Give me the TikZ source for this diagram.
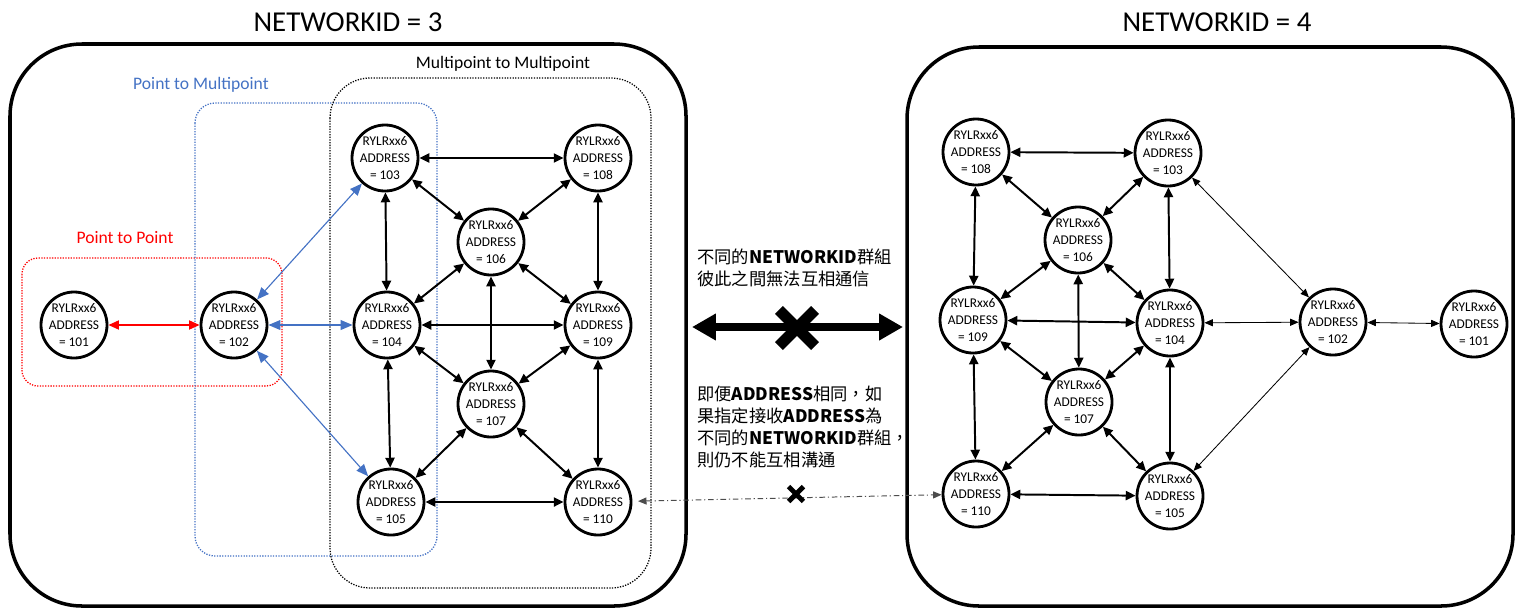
\documentclass[tikz,border=0pt]{standalone}
\usepackage{fontspec}
\setmainfont{Carlito}
\newfontfamily\cjk{Noto Sans CJK TC}
\usetikzlibrary{
  arrows.meta,
  shapes.misc
}
\definecolor{ptmp}{HTML}{4472C4}
\tikzset{
  radio/.style={circle, draw, fill=white, line width=2pt, minimum size=1.65cm,
    inner sep=-3pt, align=center, font=\fontsize{9.5}{12}\selectfont},
  group/.style={line width=2.5pt, rounded corners=1.8cm},
  zone/.style={line width=0.9pt, densely dotted},
  meshlink/.style={<->, >={Triangle[length=7pt,width=6.5pt]}, line width=1.4pt},
  bluelink/.style={<->, >={Triangle[length=8.5pt,width=7pt]}, line width=0.8pt, ptmp},
  redlink/.style={<->, >={Triangle[length=7.5pt,width=6.5pt]}, line width=1pt, red},
  thinlink/.style={<->, >={Triangle[length=6pt,width=5pt]}, line width=0.6pt},
  cutlink/.style={<->, >={Triangle[length=6pt,width=5pt]}, line width=0.7pt, black!70,
    dash pattern=on 4pt off 2pt on 0.8pt off 2pt},
  bigarrow/.style={<->, >={Triangle[length=17pt,width=18pt]}, line width=5.7pt},
  label/.style={font=\fontsize{12.5}{15}\selectfont},
  title/.style={font=\fontsize{20.5}{24}\selectfont},
  note/.style={font=\cjk\fontsize{12.3}{15.6}\selectfont, align=left, anchor=west, inner sep=0pt}
}
\begin{document}
\begin{tikzpicture}[x=0.025cm, y=-0.025cm]
  \useasboundingbox (0,0) rectangle (1516,607);

  % the two networks
  \draw[group] (10,44) rectangle (686,606);
  \draw[group] (907,47) rectangle (1513,606);
  \node[title] (id3) at (348,22) {NETWORKID = 3};
  \node[title] (id4) at (1217,22) {NETWORKID = 4};

  % modes in NETWORKID = 3
  \draw[zone, red, rounded corners=0.4cm] (22,258) rectangle (282,386);
  \draw[zone, ptmp, rounded corners=0.5cm] (195,103) rectangle (437,556);
  \draw[zone, rounded corners=1cm] (330,78) rectangle (651,588);
  \node[label, red] (p2p) at (125,238) {Point to Point};
  \node[label, ptmp] (p2mp) at (201,85) {Point to Multipoint};
  \node[label] (mp2mp) at (503,64) {Multipoint to Multipoint};

  % NETWORKID = 3
  \node[radio] (l101) at (74,325) {RYLRxx6\\ADDRESS\\= 101};
  \node[radio] (l102) at (234,325) {RYLRxx6\\ADDRESS\\= 102};
  \node[radio] (l103) at (385,158) {RYLRxx6\\ADDRESS\\= 103};
  \node[radio] (l104) at (387,325) {RYLRxx6\\ADDRESS\\= 104};
  \node[radio] (l105) at (391,502) {RYLRxx6\\ADDRESS\\= 105};
  \node[radio] (l106) at (491,242) {RYLRxx6\\ADDRESS\\= 106};
  \node[radio] (l107) at (491,404) {RYLRxx6\\ADDRESS\\= 107};
  \node[radio] (l108) at (598,158) {RYLRxx6\\ADDRESS\\= 108};
  \node[radio] (l109) at (598,325) {RYLRxx6\\ADDRESS\\= 109};
  \node[radio] (l110) at (598,502) {RYLRxx6\\ADDRESS\\= 110};

  \draw[redlink] (l101) -- (l102);
  \draw[bluelink] (l102) -- (l103);
  \draw[bluelink] (l102) -- (l104);
  \draw[bluelink] (l102) -- (l105);

  \draw[meshlink] (l103) -- (l108);
  \draw[meshlink] (l103) -- (l104);
  \draw[meshlink] (l103) -- (l106);
  \draw[meshlink] (l108) -- (l106);
  \draw[meshlink] (l108) -- (l109);
  \draw[meshlink] (l106) -- (l104);
  \draw[meshlink] (l106) -- (l109);
  \draw[meshlink] (l106) -- (l107);
  \draw[meshlink] (l104) -- (l109);
  \draw[meshlink] (l104) -- (l105);
  \draw[meshlink] (l104) -- (l107);
  \draw[meshlink] (l109) -- (l107);
  \draw[meshlink] (l109) -- (l110);
  \draw[meshlink] (l107) -- (l105);
  \draw[meshlink] (l107) -- (l110);
  \draw[meshlink] (l105) -- (l110);

  % NETWORKID = 4
  \node[radio] (r101) at (1474,324) {RYLRxx6\\ADDRESS\\= 101};
  \node[radio] (r102) at (1333,322) {RYLRxx6\\ADDRESS\\= 102};
  \node[radio] (r103) at (1168,153) {RYLRxx6\\ADDRESS\\= 103};
  \node[radio] (r104) at (1170,323) {RYLRxx6\\ADDRESS\\= 104};
  \node[radio] (r105) at (1170,496) {RYLRxx6\\ADDRESS\\= 105};
  \node[radio] (r106) at (1078,240) {RYLRxx6\\ADDRESS\\= 106};
  \node[radio] (r107) at (1079,402) {RYLRxx6\\ADDRESS\\= 107};
  \node[radio] (r108) at (976,152) {RYLRxx6\\ADDRESS\\= 108};
  \node[radio] (r109) at (973,320) {RYLRxx6\\ADDRESS\\= 109};
  \node[radio] (r110) at (976,494) {RYLRxx6\\ADDRESS\\= 110};

  \draw[meshlink] (r108) -- (r103);
  \draw[meshlink] (r108) -- (r109);
  \draw[meshlink] (r108) -- (r106);
  \draw[meshlink] (r103) -- (r106);
  \draw[meshlink] (r103) -- (r104);
  \draw[meshlink] (r106) -- (r109);
  \draw[meshlink] (r106) -- (r104);
  \draw[meshlink] (r106) -- (r107);
  \draw[meshlink] (r109) -- (r104);
  \draw[meshlink] (r109) -- (r107);
  \draw[meshlink] (r104) -- (r107);
  \draw[meshlink] (r109) -- (r110);
  \draw[meshlink] (r104) -- (r105);
  \draw[meshlink] (r107) -- (r110);
  \draw[meshlink] (r107) -- (r105);
  \draw[meshlink] (r110) -- (r105);
  \draw[thinlink] (r103) -- (r102);
  \draw[thinlink] (r104) -- (r102);
  \draw[thinlink] (r105) -- (r102);
  \draw[thinlink] (r102) -- (r101);

  % between the networks
  \node[note] (nocomm) at (697,268)
    {不同的{\bfseries NETWORKID}群組\\彼此之間無法互相通信};
  \node[note] (noaddr) at (697,427)
    {即便{\bfseries ADDRESS}相同，如\\果指定接收{\bfseries ADDRESS}為\\不同的{\bfseries NETWORKID}群組，\\則仍不能互相溝通};
  \coordinate (gapl) at (692,327);
  \coordinate (gapr) at (903,327);
  \draw[bigarrow] (gapl) -- (gapr);
  \node[cross out, draw, line width=8pt, minimum size=0.62cm, inner sep=0pt] (stop) at (797,328) {};
  \draw[cutlink, shorten <=4pt] (l110) -- (r110);
  \node[cross out, draw, line width=3.5pt, minimum size=0.25cm, inner sep=0pt] (cut) at (796,494) {};
\end{tikzpicture}
\end{document}
